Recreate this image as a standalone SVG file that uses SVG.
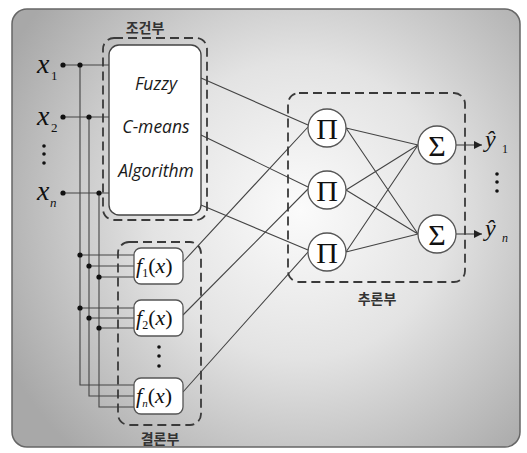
<svg xmlns="http://www.w3.org/2000/svg" width="527" height="453" viewBox="0 0 527 453">
<defs>
<radialGradient id="bg" cx="300" cy="210" r="330" gradientUnits="userSpaceOnUse">
<stop offset="0" stop-color="#fbfbfb"/>
<stop offset="0.45" stop-color="#e3e3e3"/>
<stop offset="1" stop-color="#a8a8a8"/>
</radialGradient>
<marker id="arr" viewBox="0 0 10 10" refX="10" refY="5" markerWidth="10" markerHeight="8" markerUnits="userSpaceOnUse" orient="auto">
<path d="M0,0 L10,5 L0,10 z" fill="#222"/>
</marker>
<style>
.ln{stroke:#444;stroke-width:1.1;fill:none}
.dash{stroke:#3a3a3a;stroke-width:1.8;stroke-dasharray:9 5;fill:none}
.dot{fill:#111}
.node{fill:#fff;stroke:#555;stroke-width:1.3}
.alg{font-family:"Open Sans","DejaVu Sans",sans-serif;font-style:italic;font-size:17.5px;fill:#1a1a1a;text-anchor:middle}
.ko{font-family:"Noto Sans CJK KR",sans-serif;font-weight:bold;font-size:14px;fill:#333;text-anchor:middle}
.math{font-family:"Liberation Serif","DejaVu Serif",serif;fill:#111}
.sym{font-family:"Liberation Serif","DejaVu Serif",serif;font-size:30px;fill:#111;text-anchor:middle}
</style>
</defs>
<rect x="12" y="9" width="508" height="438" rx="15" fill="url(#bg)" stroke="#666" stroke-width="1.5"/>

<g id="connectors">
<path class="ln" d="M63,65 H109 M63,117 H109 M63,193 H109"/>
<path class="ln" d="M80,65 V385 H134 M89,117 V396 H134 M99,193 V407 H134"/>
<path class="ln" d="M80,255 H134 M89,266 H134 M99,277 H134 M80,308 H134 M89,318 H134 M99,328 H134"/>
<path class="ln" d="M201,78 L308,125 M201,135 L308,187 M201,205 L308,250"/>
<path class="ln" d="M183,262 L308,127 M183,315 L308,189 M183,392 L308,252"/>
<path class="ln" d="M346,128 L418,145 M346,128 L418,234 M346,190 L418,145 M346,190 L418,234 M346,252 L418,145 M346,252 L418,234"/>
<line class="ln" x1="456" y1="145" x2="482" y2="145" stroke="#222" marker-end="url(#arr)"/>
<line class="ln" x1="456" y1="234" x2="482" y2="234" stroke="#222" marker-end="url(#arr)"/>
</g>

<g id="dots">
<circle class="dot" cx="63" cy="65" r="2.6"/><circle class="dot" cx="80" cy="65" r="2.6"/>
<circle class="dot" cx="63" cy="117" r="2.6"/><circle class="dot" cx="89" cy="117" r="2.6"/>
<circle class="dot" cx="63" cy="193" r="2.6"/><circle class="dot" cx="99" cy="193" r="2.6"/>
<circle class="dot" cx="80" cy="255" r="2.6"/><circle class="dot" cx="89" cy="266" r="2.6"/><circle class="dot" cx="99" cy="277" r="2.6"/>
<circle class="dot" cx="80" cy="308" r="2.6"/><circle class="dot" cx="89" cy="318" r="2.6"/><circle class="dot" cx="99" cy="328" r="2.6"/>
</g>

<g id="inputs" class="math">
<text x="37" y="73" font-size="28" font-style="italic">x</text><text x="51" y="80" font-size="13">1</text>
<text x="37" y="125" font-size="28" font-style="italic">x</text><text x="51" y="132" font-size="13">2</text>
<circle class="dot" cx="44" cy="146" r="1.8"/><circle class="dot" cx="44" cy="154" r="1.8"/><circle class="dot" cx="44" cy="163" r="1.8"/>
<text x="37" y="200" font-size="28" font-style="italic">x</text><text x="50" y="207" font-size="13" font-style="italic">n</text>
</g>

<g id="premise">
<rect class="dash" x="103" y="38" width="104" height="182" rx="11"/>
<rect x="109" y="45" width="92" height="170" rx="10" fill="#fff" stroke="#444" stroke-width="1.4"/>
<text class="alg" x="156" y="90">Fuzzy</text>
<text class="alg" x="156" y="133">C-means</text>
<text class="alg" x="156" y="177">Algorithm</text>
<text class="ko" x="145" y="33">조건부</text>
</g>

<g id="consequent">
<rect class="dash" x="118" y="242" width="83" height="183" rx="11"/>
<text class="ko" x="160" y="444">결론부</text>
<circle class="dot" cx="159" cy="347" r="1.8"/><circle class="dot" cx="159" cy="356" r="1.8"/><circle class="dot" cx="159" cy="366" r="1.8"/>
</g>
<g id="f1">
<rect class="node" x="134" y="248" width="49" height="36" rx="7"/>
<text class="math" x="136" y="273" font-size="22"><tspan font-style="italic">f</tspan><tspan font-size="12" dy="4">1</tspan><tspan dy="-4">(</tspan><tspan font-style="italic">x</tspan>)</text>
</g>
<g id="f2">
<rect class="node" x="134" y="300" width="49" height="36" rx="7"/>
<text class="math" x="136" y="325" font-size="22"><tspan font-style="italic">f</tspan><tspan font-size="12" dy="4">2</tspan><tspan dy="-4">(</tspan><tspan font-style="italic">x</tspan>)</text>
</g>
<g id="fn">
<rect class="node" x="134" y="378" width="49" height="36" rx="7"/>
<text class="math" x="136" y="403" font-size="22"><tspan font-style="italic">f</tspan><tspan font-size="11" font-style="italic" dy="4">n</tspan><tspan dy="-4">(</tspan><tspan font-style="italic">x</tspan>)</text>
</g>

<g id="inference">
<rect class="dash" x="288" y="93" width="177" height="189" rx="11"/>
<text class="ko" x="377" y="304">추론부</text>
</g>
<g id="p1"><circle class="node" cx="327" cy="128" r="19"/><text class="sym" x="327" y="138.5">Π</text></g>
<g id="p2"><circle class="node" cx="327" cy="190" r="19"/><text class="sym" x="327" y="200.5">Π</text></g>
<g id="p3"><circle class="node" cx="327" cy="252" r="19"/><text class="sym" x="327" y="262.5">Π</text></g>
<g id="s1"><circle class="node" cx="437" cy="145" r="19"/><text class="sym" x="437" y="155.5">Σ</text></g>
<g id="s2"><circle class="node" cx="437" cy="234" r="19"/><text class="sym" x="437" y="244.5">Σ</text></g>

<g id="outputs" class="math">
<text x="485" y="147" font-size="24" font-style="italic">ŷ</text><text x="502" y="153" font-size="12">1</text>
<circle class="dot" cx="497" cy="174" r="1.8"/><circle class="dot" cx="497" cy="182" r="1.8"/><circle class="dot" cx="497" cy="191" r="1.8"/>
<text x="485" y="236" font-size="24" font-style="italic">ŷ</text><text x="502" y="242" font-size="12" font-style="italic">n</text>
</g>
</svg>
